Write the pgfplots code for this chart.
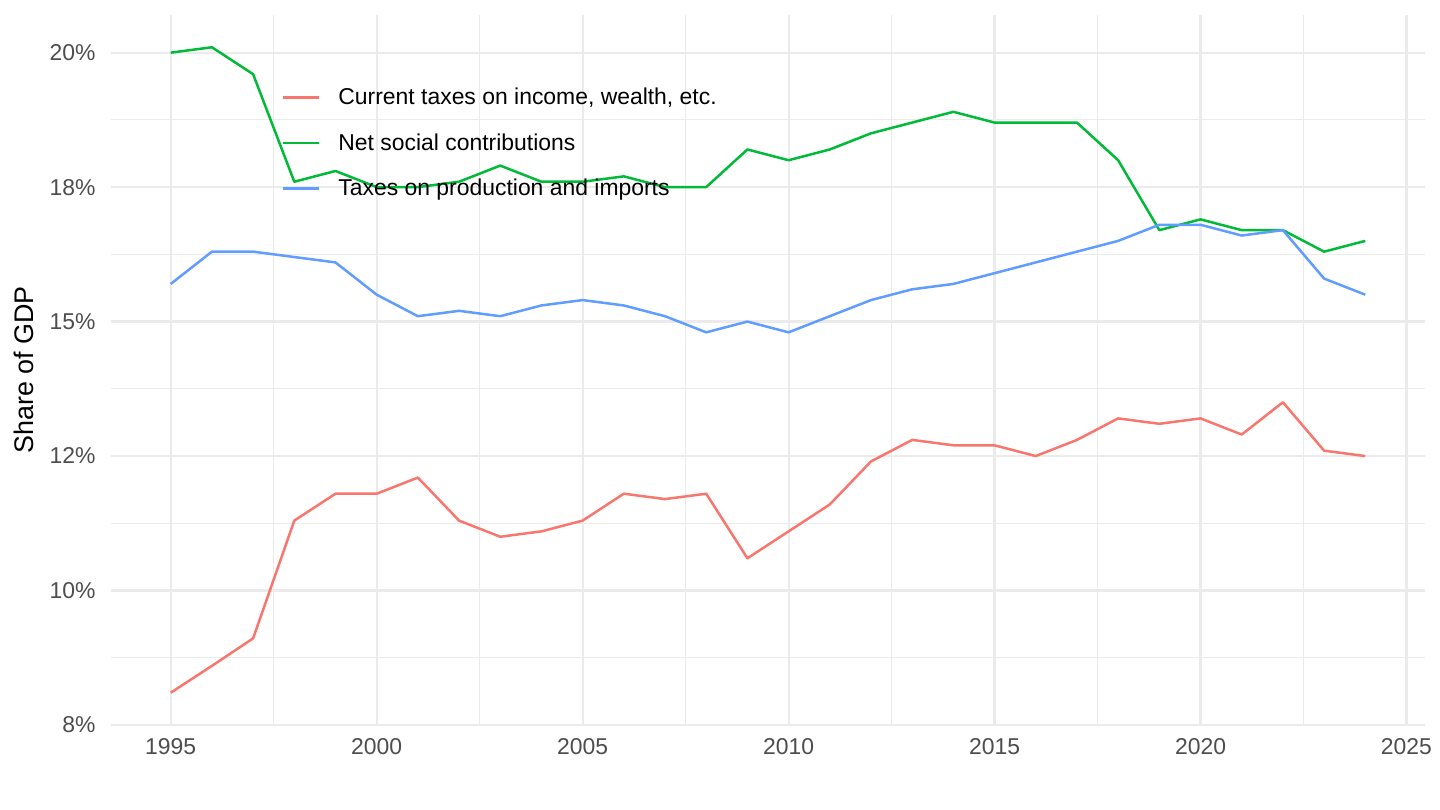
\documentclass[border=0pt]{standalone}
\usepackage{pgfplots}
\pgfplotsset{compat=1.18}
\usepackage{pgfplotstable}
\usepackage{fontspec}
\setmainfont{Liberation Sans}
\definecolor{cred}{HTML}{F8766D}
\definecolor{cgreen}{HTML}{00BA38}
\definecolor{cblue}{HTML}{619CFF}
\definecolor{gridc}{HTML}{EBEBEB}
\definecolor{tickc}{HTML}{4D4D4D}

\pgfplotstableread{
year val
1995 8.10
1996 8.60
1997 9.11
1998 11.30
1999 11.80
2000 11.80
2001 12.10
2002 11.30
2003 11.00
2004 11.10
2005 11.30
2006 11.80
2007 11.70
2008 11.80
2009 10.60
2010 11.10
2011 11.60
2012 12.40
2013 12.80
2014 12.70
2015 12.70
2016 12.50
2017 12.80
2018 13.20
2019 13.10
2020 13.20
2021 12.90
2022 13.50
2023 12.60
2024 12.50
}\income

\pgfplotstableread{
year val
1995 20.00
1996 20.10
1997 19.60
1998 17.60
1999 17.80
2000 17.50
2001 17.50
2002 17.60
2003 17.90
2004 17.60
2005 17.60
2006 17.70
2007 17.50
2008 17.50
2009 18.20
2010 18.00
2011 18.20
2012 18.50
2013 18.70
2014 18.90
2015 18.70
2016 18.70
2017 18.70
2018 18.00
2019 16.70
2020 16.90
2021 16.70
2022 16.70
2023 16.30
2024 16.50
}\social

\pgfplotstableread{
year val
1995 15.70
1996 16.30
1997 16.30
1998 16.20
1999 16.10
2000 15.50
2001 15.10
2002 15.20
2003 15.10
2004 15.30
2005 15.40
2006 15.30
2007 15.10
2008 14.80
2009 15.00
2010 14.80
2011 15.10
2012 15.40
2013 15.60
2014 15.70
2015 15.90
2016 16.10
2017 16.30
2018 16.50
2019 16.80
2020 16.80
2021 16.60
2022 16.70
2023 15.80
2024 15.50
}\production

\begin{document}
\begin{tikzpicture}
\useasboundingbox (0,0) rectangle (720bp,405bp);
\begin{axis}[
  at={(55.5bp,42.5bp)}, anchor=south west,
  scale only axis, width=657bp, height=355bp,
  xmin=1993.55, xmax=2025.45,
  ymin=7.5, ymax=20.7,
  axis line style={draw=none},
  major tick length=0pt, minor tick length=0pt,
  xtick={1995,2000,2005,2010,2015,2020,2025},
  xticklabels={1995,2000,2005,2010,2015,2020,2025},
  minor xtick={1997.5,2002.5,2007.5,2012.5,2017.5,2022.5},
  ytick={7.5,10,12.5,15,17.5,20},
  yticklabels={8\%,10\%,12\%,15\%,18\%,20\%},
  minor ytick={8.75,11.25,13.75,16.25,18.75},
  grid=both,
  major grid style={draw=gridc, line width=1.1bp},
  minor grid style={draw=gridc, line width=0.6bp},
  tick label style={font=\fontsize{11.5}{13.8}\selectfont, text=tickc, inner sep=0pt},
  xticklabel style={anchor=north, yshift=-6.5bp},
  yticklabel style={anchor=east, xshift=-7.5bp},
  ylabel={Share of GDP},
  ylabel style={at={(axis description cs:-0.0662,0.5)}, anchor=center, rotate=0, font=\fontsize{13.5}{16}\selectfont, inner sep=0pt},
  legend cell align=left,
  legend style={draw=none, fill=none, inner sep=0pt, outer sep=0pt,
    at={(axis description cs:0.1301,0.9169)}, anchor=north west,
    font=\fontsize{11.5}{13.8}\selectfont,
    row sep=0pt,
    nodes={inner sep=0pt, text height=15.5bp, text depth=7.25bp},
    /tikz/every odd column/.append style={column sep=9bp}},
  legend image code/.code={\draw[#1] (0bp,-0.4bp) -- (18bp,-0.4bp);},
  every axis plot/.append style={line width=1.25bp, line join=round},
  clip=false,
]
\addplot[cred, no markers] table[x=year, y=val] {\income};
\addlegendentry{Current taxes on income, wealth, etc.}
\addplot[cgreen, no markers] table[x=year, y=val] {\social};
\addlegendentry{Net social contributions}
\addplot[cblue, no markers] table[x=year, y=val] {\production};
\addlegendentry{Taxes on production and imports}
\end{axis}
\end{tikzpicture}
\end{document}
